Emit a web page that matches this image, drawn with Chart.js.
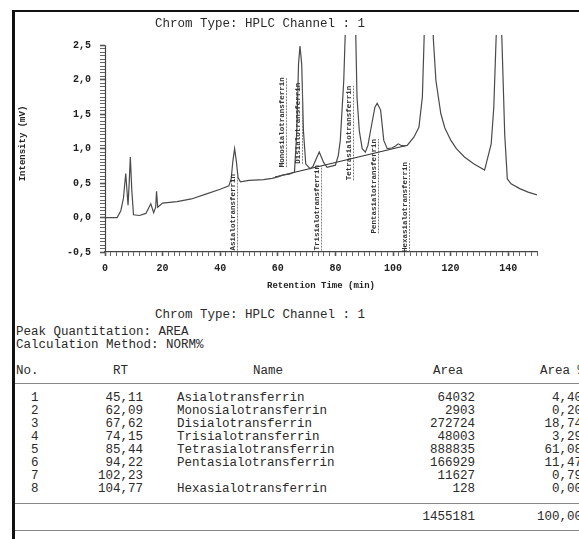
<!DOCTYPE html>
<html>
<head>
<meta charset="utf-8">
<script src="https://cdn.jsdelivr.net/npm/chart.js@4.4.1/dist/chart.umd.min.js"></script>
<style>
  html, body { margin: 0; padding: 0; background: #fff; }
  body { width: 579px; height: 539px; position: relative; overflow: hidden;
         font-family: "Liberation Mono", "DejaVu Sans Mono", monospace; color: #2a2a2a; }
  #frame { position: absolute; left: 12px; top: 10px; width: 580px; height: 540px;
           border-top: 2px solid #111; border-left: 3px solid #111; }
  #chrom { position: absolute; left: 0; top: 0; }
  .t { position: absolute; font-size: 12.5px; line-height: 14px; white-space: pre; }
  .rule { position: absolute; left: 15px; width: 570px; height: 0; border-top: 1.5px solid #888; }
</style>
</head>
<body>
<div id="frame"></div>
<canvas id="chrom" width="579" height="300"></canvas>
<script>
// chromatogram trace (min, mV)
const timeMin = [0, 4.2, 5.5, 6.4, 7.2, 7.7, 8.0, 8.4, 8.8, 9.3, 9.9, 12, 14.2, 15.9, 16.9, 17.6, 17.9, 18.3,
  20, 25, 30, 35, 40, 43, 43.8, 44.4, 45.0, 45.6, 46.2, 47, 50, 55, 58, 60, 62, 64,
  65.8, 66.6, 67.2, 67.7, 68.3, 68.9, 69.7, 71.2, 72.2, 73.0, 74.4, 75.9, 77.1, 80,
  81.0, 81.7, 82.9, 83.6, 85.4, 87.0, 87.5, 88.3, 89.3, 90.4, 91.3, 92.2, 93.7, 94.5, 95.7, 96.8,
  98.0, 99.5, 100.9, 101.8, 102.7, 104.0, 105, 107.3, 109, 110.2, 110.8, 112.4, 114.0, 114.9, 116.6,
  118, 120.1, 122, 124.8, 128, 131.8, 134.1, 135.0, 135.8, 136.8, 137.8, 138.8, 139.7, 141, 144, 146.9, 150]
const signal = [0, 0, 0.1, 0.28, 0.64, 0.35, 0.18, 0.5, 0.88, 0.4, 0.04, 0.03, 0.06, 0.2, 0.07, 0.15, 0.38, 0.15,
  0.21, 0.23, 0.27, 0.34, 0.41, 0.46, 0.56, 0.82, 1.0, 0.82, 0.58, 0.52, 0.54, 0.55, 0.57, 0.59, 0.62, 0.63,
  0.66, 1.26, 2.23, 2.49, 2.23, 1.26, 0.78, 0.71, 0.74, 0.82, 0.95, 0.80, 0.73, 0.76,
  0.9, 1.12, 1.99, 2.9, 4.6, 2.8, 1.75, 1.26, 1.0, 0.95, 1.05, 1.26, 1.60, 1.66, 1.56, 1.12,
  1.0, 1.01, 1.04, 1.07, 1.05, 1.04, 1.05, 1.17, 1.31, 1.75, 2.6, 5.5, 2.6, 1.99, 1.51,
  1.3, 1.12, 1.0, 0.88, 0.78, 0.69, 1.07, 1.6, 2.6, 3.5, 2.6, 1.2, 0.56, 0.49, 0.42, 0.37, 0.33]

// integration baseline
const baselineX = [59, 105]
const baselineY = [0.59, 1.05]

// peak table
const peakRT = [45.11, 62.09, 67.62, 74.15, 85.44, 94.22, 102.23, 104.77]
const peakName = ["Asialotransferrin", "Monosialotransferrin", "Disialotransferrin", "Trisialotransferrin",
  "Tetrasialotransferrin", "Pentasialotransferrin", "", "Hexasialotransferrin"]
const peakArea = [64032, 2903, 272724, 48003, 888835, 166929, 11627, 128]
const peakAreaPct = [4.40, 0.20, 18.74, 3.29, 61.08, 11.47, 0.79, 0.00]
const totalArea = 1455181
const totalPct = 100.00

const xTicksMajor = 20
const yTicksMajor = 0.5

const comma = (v, d) => (Math.abs(v) < 1e-9 ? 0 : v).toFixed(d).replace('.', ',')

// where each rotated peak name starts (mV), same order as peakRT
const labelFoot = [-0.48, 0.73, 0.78, -0.48, 0.54, -0.23, null, -0.5]

const peakLabels = {
    id: 'peakLabels',
    afterDatasetsDraw(chart) {
        const c = chart.ctx
        const xs = chart.scales.x, ys = chart.scales.y
        c.save()
        c.font = 'bold 7.5px "Liberation Mono", monospace'
        c.fillStyle = '#333'
        c.strokeStyle = '#666'
        c.lineWidth = 0.8
        peakRT.forEach((rt, i) => {
            if (!peakName[i]) return
            const px = Math.round(xs.getPixelForValue(rt)) + 2.5
            const py = ys.getPixelForValue(labelFoot[i])
            const w = c.measureText(peakName[i]).width
            c.setLineDash([2, 1])
            c.beginPath()
            c.moveTo(px, py)
            c.lineTo(px, py - w)
            c.stroke()
            c.setLineDash([])
            c.save()
            c.translate(px - 0.5, py)
            c.rotate(-Math.PI / 2)
            c.textAlign = 'left'
            c.textBaseline = 'bottom'
            c.fillText(peakName[i], 0, 0)
            c.restore()
        })
        // y axis line stops at the top label
        c.strokeStyle = '#444'
        c.lineWidth = 1.2
        c.beginPath()
        c.moveTo(xs.left + 0.5, ys.getPixelForValue(2.5))
        c.lineTo(xs.left + 0.5, ys.bottom)
        c.stroke()
        c.restore()
    }
}

new Chart(document.getElementById('chrom'), {
    type: 'line',
    data: {
        datasets: [{
            data: timeMin.map((t, i) => ({ x: t, y: signal[i] })),
            borderColor: '#4a4a4a',
            borderWidth: 1.2,
            pointRadius: 0,
            tension: 0
        }, {
            data: baselineX.map((t, i) => ({ x: t, y: baselineY[i] })),
            borderColor: '#333',
            borderWidth: 1.1,
            pointRadius: 0
        }]
    },
    options: {
        responsive: false,
        animation: false,
        devicePixelRatio: 1,
        layout: { padding: { top: 35, right: 42, left: 0, bottom: 0 } },
        plugins: { legend: { display: false }, tooltip: { enabled: false } },
        scales: {
            x: {
                type: 'linear',
                min: 0,
                max: 150,
                afterFit: (s) => { s.height = 48 },
                border: { display: true, color: '#444', width: 1.2 },
                grid: {
                    drawOnChartArea: false,
                    tickLength: 4,
                    tickColor: '#555',
                    tickWidth: (ctx) => ctx.tick && ctx.tick.value % xTicksMajor === 0 ? 1.6 : 0.9
                },
                ticks: {
                    stepSize: 2,
                    autoSkip: false,
                    maxRotation: 0,
                    maxTicksLimit: 200,
                    padding: 6,
                    color: '#222',
                    font: { family: '"Liberation Mono", monospace', size: 10, weight: 'bold' },
                    callback: (v) => v % xTicksMajor === 0 ? String(v) : ''
                },
                title: {
                    display: true,
                    text: 'Retention Time (min)',
                    color: '#222',
                    font: { family: '"Liberation Mono", monospace', size: 9, weight: 'bold' },
                    padding: { top: 9, bottom: 9 }
                }
            },
            y: {
                min: -0.5,
                max: 2.65,
                afterFit: (s) => { s.width = 105 },
                border: { display: false },
                grid: {
                    drawOnChartArea: false,
                    tickLength: 5,
                    tickColor: (ctx) => ctx.tick && ctx.tick.value > 2.51 ? 'rgba(0,0,0,0)' : '#555',
                    tickWidth: (ctx) => {
                        const v = ctx.tick ? ctx.tick.value : 0
                        return Math.abs(v / yTicksMajor - Math.round(v / yTicksMajor)) < 1e-6 ? 1.6 : 0.9
                    }
                },
                ticks: {
                    stepSize: 0.05,
                    includeBounds: false,
                    autoSkip: false,
                    maxTicksLimit: 200,
                    padding: 9,
                    color: '#222',
                    font: { family: '"Liberation Mono", monospace', size: 10, weight: 'bold' },
                    callback: (v) => (v <= 2.51 && Math.abs(v / yTicksMajor - Math.round(v / yTicksMajor)) < 1e-6) ? comma(v, 1) : ''
                },
                title: {
                    display: true,
                    text: 'Intensity (mV)',
                    color: '#222',
                    font: { family: '"Liberation Mono", monospace', size: 9, weight: 'bold' },
                    padding: { top: 17, bottom: 17 }
                }
            }
        }
    },
    plugins: [peakLabels]
})

// report text and peak table
function put(txt, x, yc, right) {
    const d = document.createElement('div')
    d.className = 't'
    d.textContent = txt
    d.style.top = (yc - 7) + 'px'
    if (right) d.style.right = (579 - x) + 'px'
    else d.style.left = x + 'px'
    document.body.appendChild(d)
}
function rule(y) {
    const d = document.createElement('div')
    d.className = 'rule'
    d.style.top = y + 'px'
    document.body.appendChild(d)
}

put('Chrom Type: HPLC Channel : 1', 155, 24)
put('Chrom Type: HPLC Channel : 1', 155, 315)
put('Peak Quantitation: AREA', 16, 332)
put('Calculation Method: NORM%', 16, 345)

put('No.', 16, 371)
put('RT', 113, 371)
put('Name', 253, 371)
put('Area', 433, 371)
put('Area %', 540, 371)
rule(383)

peakRT.forEach((rt, i) => {
    const y = 398 + i * 13
    put(String(i + 1), 31, y)
    put(comma(rt, 2), 143, y, true)
    put(peakName[i], 177, y)
    put(String(peakArea[i]), 475, y, true)
    put(comma(peakAreaPct[i], 2), 582, y, true)
})
rule(503)
put(String(totalArea), 475, 517, true)
put(comma(totalPct, 2), 582, 517, true)
rule(530)
</script>
</body>
</html>
